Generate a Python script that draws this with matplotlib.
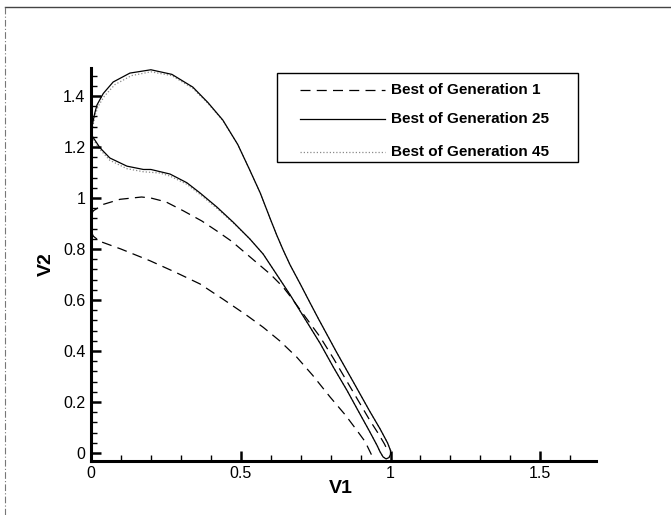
import matplotlib
matplotlib.use("Agg")
import matplotlib.pyplot as plt
from matplotlib.lines import Line2D
from matplotlib.ticker import MultipleLocator, FixedLocator, FuncFormatter

plt.rcParams["font.family"] = ["Liberation Sans", "DejaVu Sans"]

# Best of Generation 1 (dashed) - two branches of the front
gen1_upper_x = [0.0, 0.008, 0.041, 0.097, 0.169, 0.2, 0.25, 0.308, 0.37, 0.42, 0.47, 0.51,
                0.55, 0.60, 0.642, 0.665, 0.715, 0.765, 0.81, 0.855, 0.89, 0.93, 0.96, 0.98, 0.99]
gen1_upper_y = [0.935, 0.95, 0.975, 0.995, 1.004, 1.0, 0.985, 0.95, 0.91, 0.871, 0.83, 0.79,
                0.75, 0.70, 0.65, 0.615, 0.535, 0.455, 0.37, 0.28, 0.21, 0.13, 0.075, 0.035, 0.01]
gen1_lower_x = [0.0, 0.008, 0.03, 0.1, 0.197, 0.28, 0.364, 0.44, 0.52, 0.575, 0.63, 0.687,
                0.74, 0.798, 0.85, 0.887, 0.915, 0.937]
gen1_lower_y = [0.87, 0.85, 0.83, 0.8, 0.754, 0.71, 0.663, 0.604, 0.54, 0.493, 0.44, 0.376,
                0.305, 0.22, 0.148, 0.09, 0.045, -0.008]

# Best of Generation 25 (solid)
gen25_upper_x = [0.0, 0.005, 0.012, 0.02, 0.041, 0.074, 0.13, 0.2, 0.27, 0.34, 0.39, 0.44,
                 0.49, 0.53, 0.565, 0.598, 0.62, 0.642, 0.665, 0.70, 0.73, 0.76, 0.82, 0.88,
                 0.93, 0.965, 0.99, 1.0]
gen25_upper_y = [1.25, 1.29, 1.33, 1.365, 1.41, 1.455, 1.49, 1.503, 1.485, 1.435, 1.375, 1.306,
                 1.21, 1.11, 1.02, 0.92, 0.855, 0.795, 0.737, 0.66, 0.592, 0.525, 0.395, 0.27,
                 0.165, 0.095, 0.04, 0.01]
gen25_lower_x = [0.0, 0.008, 0.03, 0.063, 0.12, 0.175, 0.2, 0.264, 0.32, 0.364, 0.42, 0.475,
                 0.53, 0.575, 0.62, 0.665, 0.715, 0.765, 0.81, 0.855, 0.89, 0.93, 0.955, 0.965,
                 0.975, 0.985, 0.995, 1.0, 1.0]
gen25_lower_y = [1.25, 1.236, 1.197, 1.157, 1.125, 1.112, 1.112, 1.094, 1.06, 1.02, 0.965, 0.905,
                 0.84, 0.78, 0.70, 0.62, 0.525, 0.43, 0.335, 0.245, 0.17, 0.085, 0.03, 0.005,
                 -0.015, -0.023, -0.018, -0.005, 0.01]

# Best of Generation 45 (dotted, almost on top of generation 25)
gen45_upper_x = [0.0, 0.006, 0.014, 0.024, 0.045, 0.08, 0.135, 0.2, 0.27, 0.34, 0.39, 0.44,
                 0.49, 0.53, 0.565, 0.598, 0.62, 0.642, 0.665, 0.70, 0.73, 0.76, 0.82, 0.88,
                 0.93, 0.965, 0.99, 1.0]
gen45_upper_y = [1.24, 1.28, 1.325, 1.36, 1.40, 1.445, 1.48, 1.495, 1.48, 1.43, 1.372, 1.304,
                 1.21, 1.11, 1.02, 0.92, 0.855, 0.795, 0.737, 0.66, 0.592, 0.525, 0.395, 0.27,
                 0.165, 0.095, 0.04, 0.01]
gen45_lower_x = [0.0, 0.01, 0.03, 0.063, 0.12, 0.175, 0.23, 0.264, 0.32, 0.364, 0.42, 0.475,
                 0.53, 0.575, 0.62, 0.665, 0.715, 0.765, 0.81, 0.855, 0.89, 0.93, 0.955, 0.965,
                 0.975, 0.985, 0.995, 1.0, 1.0]
gen45_lower_y = [1.24, 1.225, 1.19, 1.148, 1.115, 1.103, 1.098, 1.086, 1.054, 1.014, 0.96, 0.902,
                 0.84, 0.78, 0.70, 0.62, 0.525, 0.43, 0.335, 0.245, 0.17, 0.085, 0.03, 0.005,
                 -0.015, -0.023, -0.018, -0.005, 0.01]

legend_labels = ["Best of Generation 1", "Best of Generation 25", "Best of Generation 45"]
y_ticks = [0, 0.2, 0.4, 0.6, 0.8, 1.0, 1.2, 1.4]
x_ticks = [0, 0.5, 1.0, 1.5]

fig = plt.figure(figsize=(6.71, 5.15), dpi=100)
ax = fig.add_axes([0.1356, 0.105, 0.7526, 0.763])

dash = (0, (8, 5))
dot = (0, (1, 1.6))

ax.plot(gen45_upper_x, gen45_upper_y, color="#8a8a8a", lw=0.9, ls=dot, zorder=1)
ax.plot(gen45_lower_x, gen45_lower_y, color="#8a8a8a", lw=0.9, ls=dot, zorder=1)
ax.plot(gen1_upper_x, gen1_upper_y, color="black", lw=0.9, ls=dash, zorder=2)
ax.plot(gen1_lower_x, gen1_lower_y, color="black", lw=0.9, ls=dash, zorder=2)
ax.plot(gen25_upper_x, gen25_upper_y, color="black", lw=0.9, zorder=3)
ax.plot(gen25_lower_x, gen25_lower_y, color="black", lw=0.9, zorder=3)

ax.set_xlim(0, 1.686)
ax.set_ylim(-0.031, 1.51)

for side in ["top", "right"]:
    ax.spines[side].set_visible(False)
for side in ["left", "bottom"]:
    ax.spines[side].set_linewidth(2.2)

ax.xaxis.set_major_locator(FixedLocator(x_ticks))
ax.xaxis.set_minor_locator(MultipleLocator(0.1))
ax.yaxis.set_major_locator(FixedLocator(y_ticks))
ax.yaxis.set_minor_locator(MultipleLocator(0.04))
fmt = FuncFormatter(lambda v, p: ("%g" % round(v, 2)))
ax.xaxis.set_major_formatter(fmt)
ax.yaxis.set_major_formatter(fmt)

ax.tick_params(which="major", direction="in", length=7, width=1.8, labelsize=11.5, pad=4,
               top=False, right=False)
ax.tick_params(which="minor", direction="in", length=4, width=1.0, top=False, right=False)

ax.set_xlabel("V1", fontsize=14, fontweight="bold")
ax.xaxis.set_label_coords(0.495, -0.048)
ax.set_ylabel("V2", fontsize=14, fontweight="bold")
ax.yaxis.set_label_coords(-0.088, 0.5)
ax.yaxis.label.set_verticalalignment("center")

# legend box drawn in figure pixels
W, H = 671.0, 515.0
box = plt.Rectangle((277 / W, 1 - 162 / H), (578 - 277) / W, (162 - 73) / H,
                    transform=fig.transFigure, fill=False, edgecolor="black", lw=1.0)
fig.add_artist(box)
styles = [dict(color="black", ls=dash), dict(color="black", ls="-"),
          dict(color="#8a8a8a", ls=dot)]
for label, st, yp in zip(legend_labels, styles, [90, 119, 152]):
    fy = 1 - yp / H
    fig.add_artist(Line2D([300 / W, 385 / W], [fy, fy], transform=fig.transFigure,
                          lw=0.9, **st))
    fig.text(391 / W, fy, label, fontsize=11, fontweight="bold", va="center", ha="left")

# scanned page frame
fig.add_artist(Line2D([5 / W, 1.0], [1 - 7 / H, 1 - 7 / H], transform=fig.transFigure,
                      color="#444444", lw=1.0))
fig.add_artist(Line2D([5 / W, 5 / W], [0, 1 - 7 / H], transform=fig.transFigure,
                      color="#777777", lw=0.8, ls=(0, (6, 2, 1, 2))))

fig.savefig("out.png", dpi=100)
